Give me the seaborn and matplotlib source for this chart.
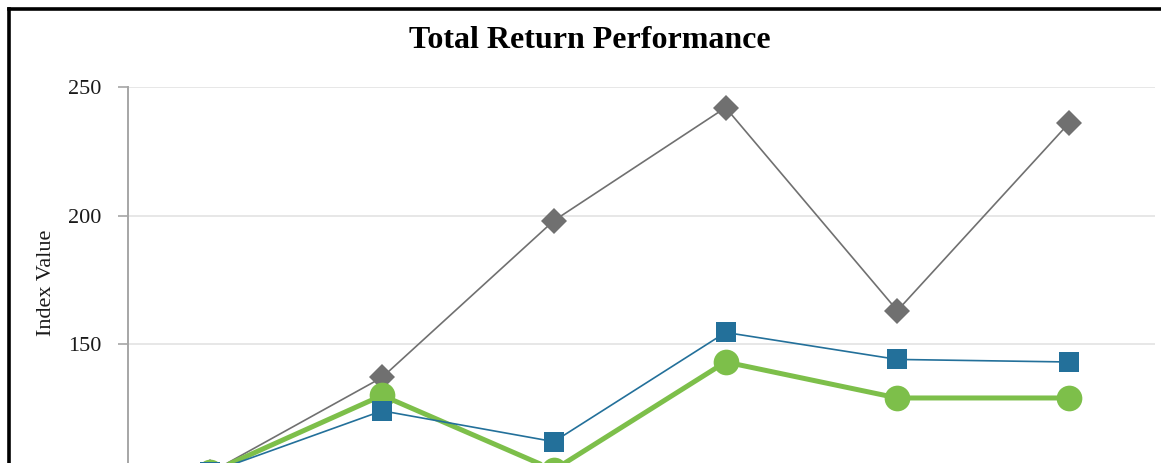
import matplotlib
matplotlib.use("Agg")
import matplotlib.pyplot as plt
import seaborn as sns
import pandas as pd
from matplotlib.lines import Line2D

# data (x labels are cut off in the reference)
periods = ['P0', 'P1', 'P2', 'P3', 'P4', 'P5']
series_names = ['Index C', 'Company', 'Index B']
index_c = [100, 137, 198, 242, 163, 236]
company = [100, 130, 101, 143, 129, 129]
index_b = [100, 124, 112, 154.5, 144, 143]

colors = {'Index C': '#707070', 'Company': '#7dbf4a', 'Index B': '#23709a'}
markers = {'Index C': 'D', 'Company': 'o', 'Index B': 's'}
widths = {'Index C': 1.2, 'Company': 3.6, 'Index B': 1.2}
msizes = {'Index C': 13, 'Company': 18.5, 'Index B': 15}

df = pd.DataFrame({
    'period': periods * 3,
    'pos': list(range(len(periods))) * 3,
    'series': sum([[n] * len(periods) for n in series_names], []),
    'value': index_c + company + index_b,
})

sns.set_theme(style='white')
plt.rcParams['font.family'] = ['Liberation Serif', 'DejaVu Serif']

fig = plt.figure(figsize=(11.61, 4.63), dpi=100)
ax = fig.add_axes([0.1102, 0.812 - 1.110, 0.8846, 1.110])

for i, name in enumerate(series_names):
    sub = df[df['series'] == name]
    sns.lineplot(data=sub, x='pos', y='value', ax=ax, color=colors[name],
                 marker=markers[name], markersize=msizes[name], linewidth=widths[name],
                 markeredgewidth=0, sort=False, zorder=3 + i, legend=False)

ax.set_xlim(-0.48, len(periods) - 0.5)
ax.set_ylim(50, 250)
ax.set_yticks([50, 100, 150, 200, 250])
ax.set_xticks(range(len(periods)))
ax.set_xticklabels(periods)
ax.tick_params(axis='x', labelbottom=False, bottom=False)
ax.set_xlabel('')
ax.set_ylabel('')
ax.yaxis.grid(True, color='#e3e3e3', linewidth=1.2)
ax.xaxis.grid(False)
for s in ['top', 'right', 'bottom']:
    ax.spines[s].set_visible(False)
ax.spines['left'].set_color('#a6a6a6')
ax.spines['left'].set_linewidth(1.4)
ax.tick_params(axis='y', which='both', left=True, length=7, width=1.2, color='#a6a6a6',
               labelsize=16, pad=12, labelcolor='#1a1a1a')

fig.text(0.508, 0.913, 'Total Return Performance', ha='center', va='center',
         fontsize=23, fontweight='bold', color='black')
fig.text(0.040, 0.39, 'Index Value', ha='center', va='center', rotation=90,
         fontsize=16, color='#1a1a1a')

# partial frame: left and top edges only
fig.add_artist(Line2D([9 / 1161, 9 / 1161], [0, 1 - 9 / 463], transform=fig.transFigure,
                      color='black', linewidth=2.6, solid_capstyle='projecting'))
fig.add_artist(Line2D([9 / 1161, 1], [1 - 9 / 463, 1 - 9 / 463], transform=fig.transFigure,
                      color='black', linewidth=2.6, solid_capstyle='projecting'))

fig.savefig('out.png', dpi=100)
